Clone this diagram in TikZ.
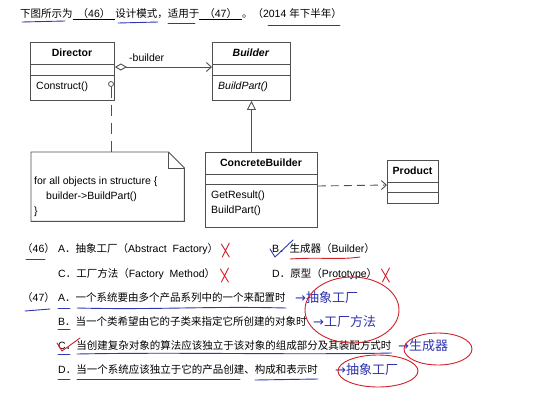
\documentclass[tikz,border=0pt]{standalone}
\usepackage{fontspec}
\setmainfont{Liberation Sans}
\newfontfamily\cjk{Noto Sans CJK SC}
\newfontfamily\symf{DejaVu Sans}
\newcommand{\zh}[1]{{\cjk #1}}
\usetikzlibrary{arrows.meta,calc}
\definecolor{umlc}{HTML}{505050}
\definecolor{hblue}{HTML}{3035B0}
\definecolor{hred}{HTML}{D0202A}
\begin{document}
\begin{tikzpicture}[x=1pt,y=-1pt,
  box/.style={draw=umlc, line width=0.9pt, inner sep=0, anchor=north west},
  ut/.style={inner sep=0, font=\fontsize{10.5}{12}\selectfont},
  tx/.style={inner sep=0, anchor=base west, font=\fontsize{10.5}{12}\selectfont},
  hand/.style={inner sep=0, anchor=west, text=hblue, font=\fontsize{13}{14}\selectfont},
  bline/.style={draw=hblue, line width=0.9pt, line cap=round},
  rline/.style={draw=hred, line width=0.9pt, line cap=round},
  conn/.style={draw=umlc, line width=0.9pt},
  xmark/.pic={\draw[rline] (-4,-8) -- (4,5) (4,-9) -- (-3,5);}
]
\useasboundingbox[fill=white] (0,0) rectangle (541,405);

% Title
\node[tx] (title) at (20,17) {\zh{下图所示为}\underline{\hspace{5pt}\zh{（}46\zh{）}\hspace{5pt}}\zh{设计模式，适用于}\underline{\hspace{5pt}\zh{（}47\zh{）}\hspace{5pt}}\zh{。（}2014 \zh{年下半年）}};
\draw[bline] (22,22) -- (65,21);
\draw[bline] (118,23) -- (158,22);
\draw[bline] (168,23) -- (195,23);
\draw[bline] (268,25) -- (340,25);

% Director
\node[box, minimum width=84, minimum height=58] (director) at (30,42) {};
\draw[conn] ($(director.north west)+(0,22)$) -- ($(director.north east)+(0,22)$);
\draw[conn] ($(director.north west)+(0,33)$) -- ($(director.north east)+(0,33)$);
\node[ut] (dname) at (72,53) {\textbf{Director}};
\node[ut, anchor=west] (dop) at (36,87) {Construct()};

% Builder
\node[box, minimum width=78, minimum height=58] (builder) at (212,42) {};
\draw[conn] ($(builder.north west)+(0,22)$) -- ($(builder.north east)+(0,22)$);
\draw[conn] ($(builder.north west)+(0,33)$) -- ($(builder.north east)+(0,33)$);
\node[ut] (bname) at (251,53) {\textbf{\textit{Builder}}};
\node[ut, anchor=west] (bop) at (218,87) {\textit{BuildPart()}};

% aggregation
\draw[conn, {Diamond[open,length=12pt,width=7pt]}-{Straight Barb[length=5pt,width=9pt]}]
  ($(director.north east)+(0,25)$) -- ($(builder.north west)+(0,25)$);
\node[ut, anchor=west] (blabel) at (129,58) {-builder};

% ConcreteBuilder
\node[box, minimum width=112, minimum height=75] (cb) at (205,152) {};
\draw[conn] ($(cb.north west)+(0,22)$) -- ($(cb.north east)+(0,22)$);
\draw[conn] ($(cb.north west)+(0,32)$) -- ($(cb.north east)+(0,32)$);
\node[ut] (cbname) at (261,163) {\textbf{ConcreteBuilder}};
\node[ut, anchor=west] (cbop1) at (211,196) {GetResult()};
\node[ut, anchor=west] (cbop2) at (211,211) {BuildPart()};

\draw[conn, -{Triangle[open,length=9pt,width=9pt]}] (cb.north -| builder.south) -- (builder.south);

% Product
\node[box, minimum width=51, minimum height=43] (product) at (387,160) {};
\draw[conn] ($(product.north west)+(0,22)$) -- ($(product.north east)+(0,22)$);
\draw[conn] ($(product.north west)+(0,32)$) -- ($(product.north east)+(0,32)$);
\node[ut] (pname) at (412.5,171) {\textbf{Product}};
\draw[conn, dash pattern=on 8pt off 5pt, -{Straight Barb[length=5pt,width=9pt]}]
  ($(cb.north east)+(0,34)$) -- ($(product.north west)+(0,25)$);

% Note
\node[inner sep=0, minimum width=153, minimum height=69, anchor=north west] (note) at (31,152) {};
\draw[conn] (note.north west) -- ($(note.north east)+(-16,0)$) -- ($(note.north east)+(0,16)$)
  -- (note.south east) -- (note.south west) -- cycle;
\draw[conn] ($(note.north east)+(-16,0)$) -- ($(note.north east)+(-16,16)$) -- ($(note.north east)+(0,16)$);
\node[ut, anchor=west] (n1) at (34,182) {for all objects in structure \{};
\node[ut, anchor=west] (n2) at (46,197) {builder->BuildPart()};
\node[ut, anchor=west] (n3) at (34,212) {\}};
\node[circle, draw=umlc, line width=0.8pt, fill=white, minimum size=5pt, inner sep=0] (nc) at (111,84) {};
\draw[conn, dash pattern=on 11pt off 7pt] (nc.south) -- (note.north -| nc.south);

% (46)
\node[tx] (q46) at (22,252) {\zh{（}46\zh{）}};
\draw[bline] (26,259) -- (45,259);
\node[tx] (a46) at (58,252) {A\zh{．抽象工厂（}Abstract\hspace{3pt} Factory\zh{）}};
\pic at ([xshift=7pt]a46.base east) {xmark};
\node[tx] (b46) at (272,252) {B\zh{．生成器（}Builder\zh{）}};
\draw[draw=hblue, line width=0.9pt, line cap=round, line join=round] (270,249) -- (275,257) -- (293,240);
\draw[rline] (290,259) .. controls (320,257) and (340,260) .. (360,257);
\node[tx] (c46) at (58,277) {C\zh{．工厂方法（}Factory\hspace{3pt} Method\zh{）}};
\pic at ([xshift=9pt]c46.base east) {xmark};
\node[tx] (d46) at (272,277) {D\zh{．原型（}Prototype\zh{）}};
\pic at ([xshift=8pt]d46.base east) {xmark};

% (47)
\node[tx] (q47) at (22,301) {\zh{（}47\zh{）}};
\draw[bline] (25,311) -- (50,309);
\node[tx] (a47) at (58,301) {A\zh{．一个系统要由多个产品系列中的一个来配置时}};
\node[tx] (b47) at (58,325) {B\zh{．当一个类希望由它的子类来指定它所创建的对象时}};
\node[tx] (c47) at (58,349) {C\zh{．当创建复杂对象的算法应该独立于该对象的组成部分及其装配方式时}};
\node[tx] (d47) at (58,373) {D\zh{．当一个系统应该独立于它的产品创建、构成和表示时}};

\draw[bline] ([shift={(0,7)}]a47.base west) -- ([shift={(12,7)}]a47.base west);
\draw[bline] ([shift={(19,7)}]a47.base west) .. controls ([shift={(100,9)}]a47.base west) and ([shift={(-80,5)}]a47.base east) .. ([shift={(0,7)}]a47.base east);
\draw[bline] ([shift={(0,4)}]b47.base west) -- ([shift={(12,4)}]b47.base west);
\draw[bline] ([shift={(0,5)}]c47.base west) -- ([shift={(12,5)}]c47.base west);
\draw[bline] ([shift={(19,5)}]c47.base west) .. controls ([shift={(120,3)}]c47.base west) and ([shift={(-100,6)}]c47.base east) .. ([shift={(0,4)}]c47.base east);
\draw[bline] ([shift={(0,6)}]d47.base west) -- ([shift={(12,6)}]d47.base west);
\draw[bline] ([shift={(19,6)}]d47.base west) -- (240,379);
\draw[bline] (255,380) -- ([shift={(0,6)}]d47.base east);
\draw[draw=hred, line width=0.9pt, line cap=round, line join=round] (57,343) -- (62,351) -- (80,338);

% handwritten answers
\node[hand] (h1) at (295,298) {{\symf →}\zh{抽象工厂}};
\node[hand] (h2) at (313,322) {{\symf →}\zh{工厂方法}};
\node[hand] (h3) at (398,346) {{\symf →}\zh{生成器}};
\node[hand] (h4) at (335,370) {{\symf →}\zh{抽象工厂}};
\draw[rline] (352,310) ellipse [x radius=47, y radius=33];
\draw[rline] (438,349) ellipse [x radius=34, y radius=16];
\draw[rline] (378,371) ellipse [x radius=40, y radius=16];
\end{tikzpicture}
\end{document}
